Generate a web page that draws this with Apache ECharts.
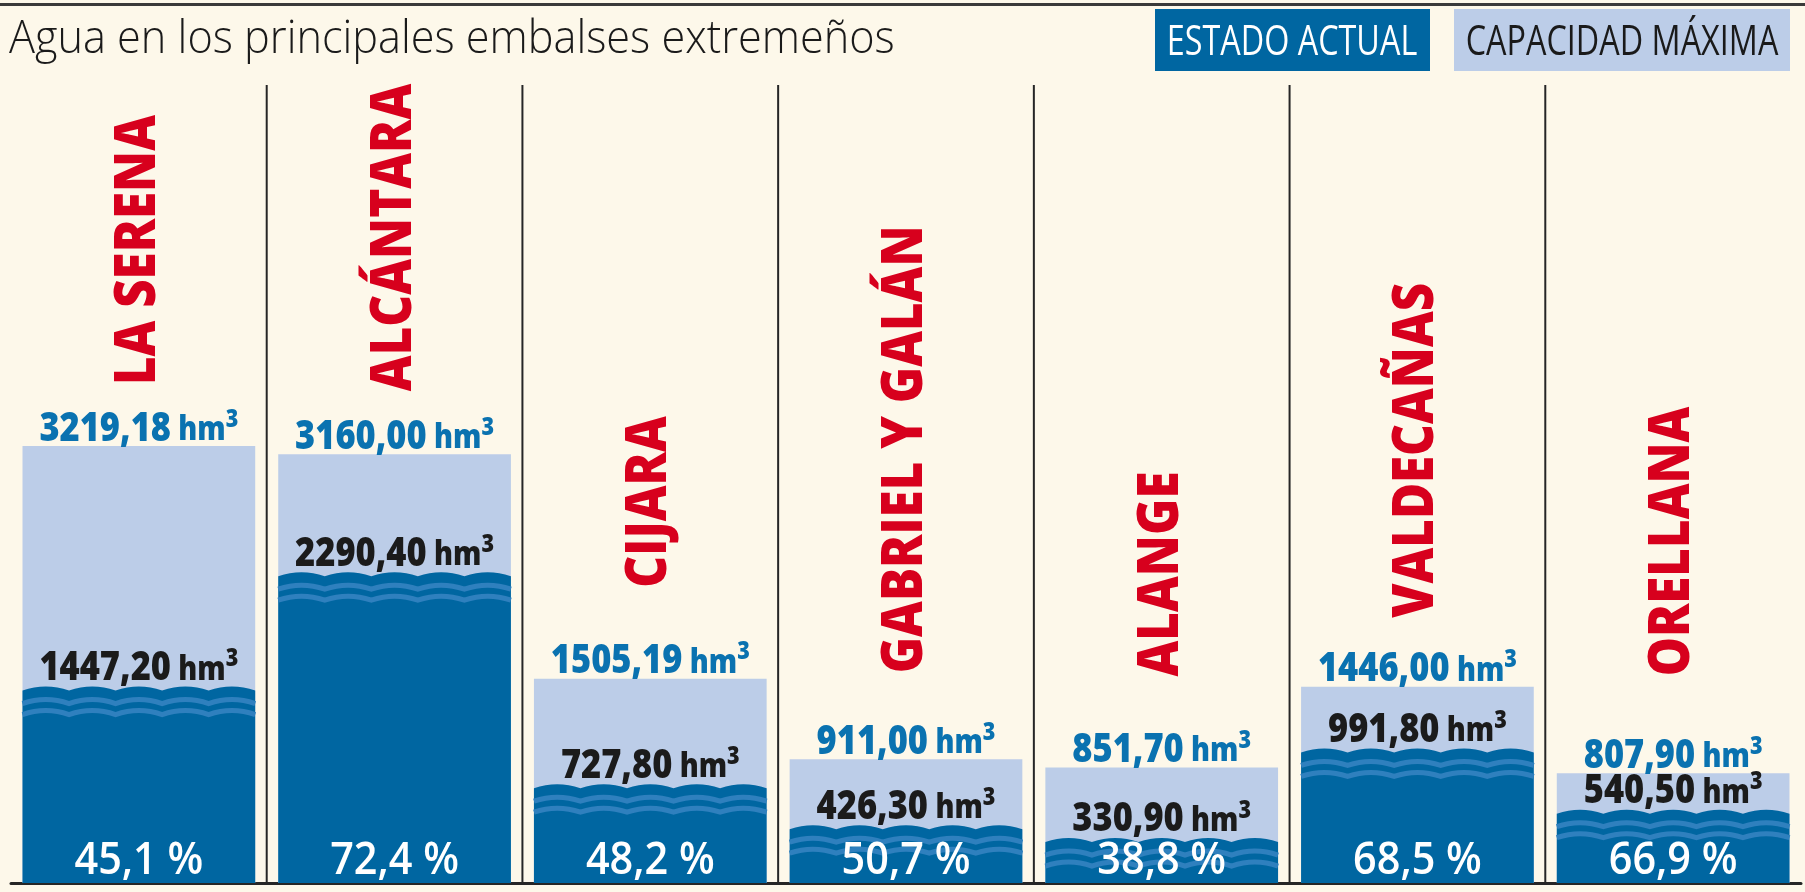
<!DOCTYPE html>
<html>
<head>
<meta charset="utf-8">
<script src="https://cdn.jsdelivr.net/npm/echarts@6/dist/echarts.min.js"></script>
<style>
html,body{margin:0;padding:0;background:#fdf8ea;}
#c{width:1805px;height:892px;}
</style>
</head>
<body>
<div id="c"></div>
<script>
// ---- data ----
const titleText = 'Agua en los principales embalses extremeños';
const legendLabels = ['ESTADO ACTUAL', 'CAPACIDAD MÁXIMA'];
const names = ['LA SERENA', 'ALCÁNTARA', 'CIJARA', 'GABRIEL Y GALÁN', 'ALANGE', 'VALDECAÑAS', 'ORELLANA'];
const capacity = [3219.18, 3160.00, 1505.19, 911.00, 851.70, 1446.00, 807.90];
const current = [1447.20, 2290.40, 727.80, 426.30, 330.90, 991.80, 540.50];
const percent = [45.1, 72.4, 48.2, 50.7, 38.8, 68.5, 66.9];
const unitText = 'hm';
const unitSup = '3';

// ---- layout (pixels) ----
const nameGap = [61, 63, 91, 86, 91, 69, 97];

const COL = {
  bg: '#fdf8ea', dark: '#0066a1', light: '#bccde8', stripe: '#2f80be',
  red: '#d7001d', capText: '#0a72b0', curText: '#1b1b1b', rule: '#262626'
};
const FONT = '"Open Sans", "Noto Sans", sans-serif';
const BAR_FRAC = 0.91;

const fmt = v => v.toFixed(2).replace('.', ',');
const fmtPct = v => v.toFixed(1).replace('.', ',') + ' %';

function volRich(color) {
  return {
    n: { fontFamily: FONT, fontWeight: 800, fontSize: 40, fill: color, verticalAlign: 'bottom', lineHeight: 42 },
    h: { fontFamily: FONT, fontWeight: 800, fontSize: 33, fill: color, verticalAlign: 'bottom', lineHeight: 42, padding: [0, 0, 2, 0] },
    s: { fontFamily: FONT, fontWeight: 800, fontSize: 25, fill: color, verticalAlign: 'top', lineHeight: 26 }
  };
}
function volText(v) { return '{n|' + fmt(v) + '}{h| ' + unitText + '}{s|' + unitSup + '}'; }

function renderCurrent(params, api) {
  const i = api.value(0), v = api.value(1);
  const top = api.coord([i, v]);
  const base = api.coord([i, 0]);
  const bw = api.size([1, 0])[0] * BAR_FRAC;
  const x0 = top[0] - bw / 2, x1 = top[0] + bw / 2;
  const y = top[1], yb = base[1];
  const n = Math.max(1, Math.round(bw / 47));
  const P = bw / n, A = 4;
  function wave(dy) {
    let d = '';
    for (let k = 0; k < n; k++) {
      d += ' Q ' + (x0 + P * (k + 0.5)) + ' ' + (y - A + dy) + ' ' + (x0 + P * (k + 1)) + ' ' + (y + A + dy);
    }
    return d;
  }
  const body = 'M ' + x0 + ' ' + yb + ' L ' + x0 + ' ' + (y + A) + wave(0) + ' L ' + x1 + ' ' + yb + ' Z';
  const children = [{ type: 'path', shape: { pathData: body }, style: { fill: COL.dark } }];
  [13, 24].forEach(function (d) {
    if (y + A + d + 3 < yb) {
      children.push({
        type: 'path',
        shape: { pathData: 'M ' + x0 + ' ' + (y + A + d) + wave(d) },
        style: { fill: null, stroke: COL.stripe, lineWidth: 5 }
      });
    }
  });
  return { type: 'group', children: children };
}

function renderLabels(params, api) {
  const i = api.value(0);
  const cap = api.value(1), cur = api.value(2), pct = api.value(3);
  const cx = api.coord([i, 0])[0];
  const base = api.coord([i, 0])[1];
  const capTop = api.coord([i, cap])[1];
  const curTop = api.coord([i, cur])[1];
  return {
    type: 'group',
    children: [
      {
        type: 'text', x: cx, y: capTop - nameGap[i], rotation: Math.PI / 2, scaleX: 0.88,
        style: { text: names[i], fontFamily: FONT, fontWeight: 800, fontSize: 56, fill: COL.red, align: 'left', verticalAlign: 'middle' }
      },
      {
        type: 'text', x: cx, y: capTop + 3, scaleX: 0.86,
        style: { text: volText(cap), rich: volRich(COL.capText), align: 'center', verticalAlign: 'bottom' }
      },
      {
        type: 'text', x: cx, y: curTop + 2, scaleX: 0.86,
        style: { text: volText(cur), rich: volRich(COL.curText), align: 'center', verticalAlign: 'bottom' }
      },
      {
        type: 'text', x: cx, y: base - 22, scaleX: 0.9,
        style: { text: fmtPct(pct), fontFamily: FONT, fontWeight: 600, fontSize: 46, fill: '#ffffff', align: 'center', verticalAlign: 'middle' }
      }
    ]
  };
}

function renderSeparator(params, api) {
  const i = api.value(0);
  const cs = params.coordSys;
  const x = (api.coord([i - 1, 0])[0] + api.coord([i, 0])[0]) / 2;
  return {
    type: 'line',
    shape: { x1: x, y1: cs.y, x2: x, y2: cs.y + cs.height },
    style: { stroke: COL.rule, lineWidth: 2 }
  };
}

const chart = echarts.init(document.getElementById('c'), null, { renderer: 'canvas' });
chart.setOption({
  backgroundColor: COL.bg,
  animation: false,
  grid: { left: 11, right: 4, top: 85, bottom: 9 },
  xAxis: {
    type: 'category', data: names,
    axisLabel: { show: false }, axisTick: { show: false },
    axisLine: { show: true, lineStyle: { color: COL.rule, width: 3 } }
  },
  yAxis: { type: 'value', min: 0, max: 5880, show: false, splitLine: { show: false } },
  series: [
    {
      type: 'custom', name: 'sep', renderItem: renderSeparator, silent: true, z: 1,
      data: names.slice(1).map((n, k) => [k + 1, 0])
    },
    {
      type: 'bar', name: legendLabels[1], data: capacity, barWidth: (BAR_FRAC * 100) + '%',
      itemStyle: { color: COL.light }, z: 2
    },
    {
      type: 'custom', name: legendLabels[0], renderItem: renderCurrent, z: 3, clip: false,
      encode: { x: 0, y: 1 },
      data: current.map((v, i) => [i, v])
    },
    {
      type: 'custom', name: 'labels', renderItem: renderLabels, z: 5, clip: false, silent: true,
      encode: { x: 0, y: 1 },
      data: names.map((n, i) => [i, capacity[i], current[i], percent[i]])
    }
  ],
  graphic: [
    { type: 'rect', left: 0, top: 3, shape: { width: 1805, height: 3 }, style: { fill: '#3a3a3a' } },
    {
      type: 'text', x: 9, y: 40, scaleX: 0.94,
      style: { text: titleText, fontFamily: FONT, fontWeight: 300, fontSize: 46, fill: '#1a1a1a', verticalAlign: 'middle' }
    },
    { type: 'rect', shape: { x: 1155, y: 9, width: 275, height: 62 }, style: { fill: COL.dark } },
    {
      type: 'text', x: 1292, y: 43, scaleX: 0.77,
      style: { text: legendLabels[0], fontFamily: FONT, fontWeight: 400, fontSize: 42, fill: '#ffffff', align: 'center', verticalAlign: 'middle' }
    },
    { type: 'rect', shape: { x: 1454, y: 9, width: 336, height: 62 }, style: { fill: COL.light } },
    {
      type: 'text', x: 1622, y: 43, scaleX: 0.77,
      style: { text: legendLabels[1], fontFamily: FONT, fontWeight: 400, fontSize: 42, fill: '#1a1a1a', align: 'center', verticalAlign: 'middle' }
    }
  ]
});
</script>
</body>
</html>
